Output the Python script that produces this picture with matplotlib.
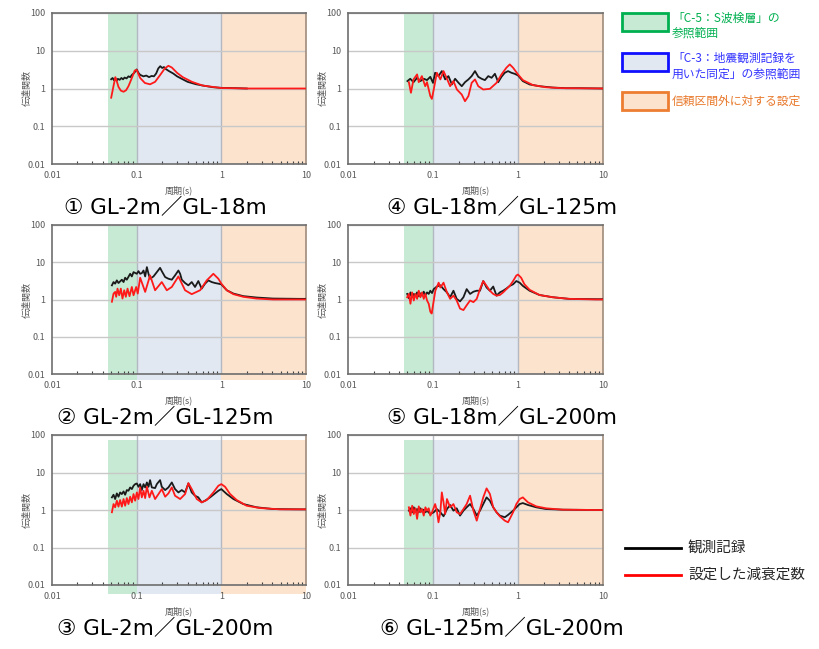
import matplotlib
matplotlib.use('Agg')
import matplotlib.pyplot as plt
from matplotlib.patches import Rectangle

plt.rcParams['font.family'] = ['Noto Sans CJK JP', 'DejaVu Sans']

# ---- data (period [s], transfer function) ----
titles = ['① GL-2m／GL-18m', '② GL-2m／GL-125m', '③ GL-2m／GL-200m',
          '④ GL-18m／GL-125m', '⑤ GL-18m／GL-200m', '⑥ GL-125m／GL-200m']

p1_obs = [0.050, 0.052, 0.054, 0.056, 0.058, 0.060, 0.063, 0.066, 0.069, 0.072, 0.076, 0.080, 0.084, 0.088,
          0.092, 0.096, 0.100, 0.105, 0.11, 0.12, 0.13, 0.14, 0.15, 0.16, 0.17, 0.18, 0.19, 0.20, 0.21, 0.22,
          0.24, 0.27, 0.30, 0.35, 0.40, 0.50, 0.60, 0.80, 1.0, 1.5, 2.0]
v1_obs = [1.76, 1.9, 1.65, 1.85, 1.6, 1.8, 1.7, 1.9, 1.75, 1.95, 1.85, 2.1, 2.0, 2.3,
          2.5, 2.8, 3.2, 2.6, 2.3, 2.1, 2.2, 2.0, 2.15, 2.1, 2.5, 3.4, 3.9, 3.5, 3.7, 3.3,
          2.9, 2.5, 2.1, 1.75, 1.5, 1.3, 1.2, 1.08, 1.04, 1.02, 1.0]
p1_fit = [0.050, 0.053, 0.056, 0.058, 0.061, 0.065, 0.070, 0.075, 0.080, 0.085, 0.090, 0.095, 0.100, 0.110,
          0.125, 0.144, 0.165, 0.19, 0.215, 0.237, 0.26, 0.30, 0.35, 0.45, 0.60, 0.75, 1.0, 2.0, 10.0]
v1_fit = [0.57, 1.1, 2.0, 1.6, 1.1, 0.88, 0.82, 0.9, 1.15, 1.6, 2.2, 3.0, 3.1, 1.9,
          1.4, 1.29, 1.5, 2.3, 3.4, 4.0, 3.6, 2.6, 2.0, 1.5, 1.2, 1.12, 1.03, 1.0, 1.0]

p2_obs = [0.051, 0.0533, 0.0557, 0.0583, 0.061, 0.0668, 0.070, 0.0731, 0.0765, 0.0838, 0.0877, 0.0918,
          0.1005, 0.105, 0.110, 0.115, 0.1205, 0.126, 0.132, 0.138, 0.144, 0.158, 0.173, 0.189, 0.198,
          0.217, 0.237, 0.260, 0.284, 0.311, 0.326, 0.341, 0.373, 0.408, 0.447, 0.489, 0.535, 0.586,
          0.642, 0.703, 0.769, 0.842, 0.922, 1.0, 1.16, 1.39, 1.82, 2.61, 4.1, 8.5, 10.0]
v2_obs = [2.4, 2.94, 2.66, 3.26, 2.77, 3.4, 2.94, 3.84, 3.4, 4.9, 4.16, 5.43,
          4.9, 5.77, 4.9, 5.1, 6.0, 4.16, 7.4, 4.9, 3.61, 4.16, 5.43, 7.07, 5.77,
          4.0, 3.61, 3.4, 4.43, 6.0, 4.9, 3.4, 2.77, 2.4, 2.94, 2.17, 3.13, 1.96,
          2.66, 3.26, 2.94, 2.77, 2.66, 2.55, 1.77, 1.44, 1.23, 1.13, 1.06, 1.04, 1.04]
p2_fit = [0.051, 0.0533, 0.0557, 0.0573, 0.0594, 0.0622, 0.065, 0.068, 0.0713, 0.0745, 0.078, 0.0823,
          0.0877, 0.0918, 0.0987, 0.103, 0.110, 0.126, 0.144, 0.165, 0.198, 0.227, 0.260, 0.311, 0.373,
          0.447, 0.561, 0.672, 0.805, 0.922, 1.0, 1.16, 1.39, 1.82, 2.61, 4.1, 10.0]
v2_fit = [0.87, 1.44, 1.6, 1.18, 1.96, 1.30, 1.96, 1.06, 1.77, 1.18, 1.96, 1.23,
          2.17, 1.30, 2.17, 1.44, 3.84, 1.6, 4.43, 1.77, 2.94, 1.77, 2.17, 4.16, 1.77,
          1.39, 1.77, 3.26, 4.9, 3.61, 2.66, 1.77, 1.39, 1.18, 1.06, 1.0, 1.0]

p3_obs = [0.051, 0.0533, 0.0557, 0.0583, 0.061, 0.0638, 0.0668, 0.070, 0.0731, 0.0765, 0.080, 0.0838,
          0.0877, 0.0918, 0.096, 0.1005, 0.105, 0.110, 0.115, 0.1205, 0.126, 0.132, 0.138, 0.144, 0.151,
          0.165, 0.173, 0.189, 0.198, 0.217, 0.237, 0.260, 0.284, 0.311, 0.341, 0.373, 0.408, 0.447,
          0.489, 0.535, 0.586, 0.642, 0.736, 0.842, 0.922, 1.0, 1.16, 1.39, 1.82, 2.61, 4.1, 8.5, 10.0]
v3_obs = [2.17, 2.55, 1.96, 2.77, 2.26, 2.94, 2.66, 3.13, 2.55, 3.4, 3.26, 4.0,
          3.61, 4.43, 4.9, 5.1, 4.16, 4.9, 3.4, 4.9, 4.0, 5.43, 4.16, 6.26, 4.0,
          3.84, 4.9, 6.26, 4.16, 3.4, 4.0, 5.43, 3.61, 2.94, 3.4, 2.94, 5.1, 2.94,
          2.4, 2.17, 1.6, 1.77, 2.17, 2.77, 3.26, 3.61, 2.66, 1.96, 1.44, 1.18, 1.06, 1.04, 1.04]
p3_fit = [0.051, 0.0533, 0.0557, 0.0583, 0.061, 0.0638, 0.0668, 0.070, 0.0731, 0.0765, 0.080, 0.0838,
          0.0877, 0.0918, 0.096, 0.1005, 0.105, 0.110, 0.115, 0.1205, 0.126, 0.132, 0.1416, 0.151, 0.165,
          0.181, 0.198, 0.217, 0.237, 0.260, 0.284, 0.326, 0.373, 0.408, 0.447, 0.513, 0.586, 0.672,
          0.805, 0.922, 1.0, 1.107, 1.27, 1.52, 1.99, 2.86, 4.92, 10.0]
v3_fit = [0.87, 1.44, 1.18, 1.77, 1.23, 1.84, 1.23, 1.96, 1.30, 2.08, 1.44, 2.26,
          1.6, 2.66, 1.77, 2.94, 1.96, 4.0, 2.17, 3.26, 2.08, 4.16, 2.17, 3.26, 1.96,
          2.66, 3.61, 2.26, 2.77, 4.0, 2.4, 1.96, 2.66, 5.21, 3.61, 1.96, 1.6, 1.84,
          2.94, 4.43, 4.9, 4.16, 2.66, 1.84, 1.30, 1.13, 1.04, 1.04]

p4_obs = [0.050, 0.054, 0.059, 0.065, 0.071, 0.078, 0.085, 0.093, 0.100, 0.106, 0.116, 0.127, 0.139, 0.152,
          0.167, 0.182, 0.200, 0.218, 0.238, 0.261, 0.285, 0.312, 0.341, 0.373, 0.408, 0.447, 0.489, 0.535,
          0.585, 0.639, 0.699, 0.764, 0.836, 0.914, 1.0, 1.14, 1.37, 1.79, 2.56, 3.67, 5.25, 10.0]
v4_obs = [1.57, 1.81, 1.47, 1.92, 1.57, 1.81, 1.67, 2.04, 1.41, 2.61, 2.13, 2.89, 1.74, 2.13,
          1.28, 1.81, 1.41, 1.15, 1.47, 1.74, 2.13, 2.89, 2.04, 1.81, 1.67, 2.13, 1.92, 2.45,
          1.47, 2.04, 2.61, 2.89, 2.61, 2.45, 2.22, 1.57, 1.28, 1.15, 1.06, 1.02, 1.02, 1.0]
p4_fit = [0.052, 0.055, 0.059, 0.065, 0.068, 0.074, 0.081, 0.085, 0.093, 0.097, 0.102, 0.111, 0.122,
          0.133, 0.146, 0.159, 0.174, 0.191, 0.218, 0.238, 0.261, 0.285, 0.312, 0.341, 0.39, 0.467,
          0.559, 0.639, 0.73, 0.80, 0.875, 1.0, 1.14, 1.5, 2.14, 3.3, 10.0]
v4_fit = [1.47, 0.77, 1.74, 2.36, 1.47, 2.13, 1.15, 1.47, 0.63, 0.53, 0.94, 2.61, 1.74,
          2.89, 1.81, 1.15, 1.57, 0.94, 0.69, 0.46, 0.63, 1.41, 1.74, 1.15, 0.94, 0.98,
          1.41, 2.36, 3.55, 4.35, 3.55, 2.36, 1.67, 1.23, 1.08, 1.02, 1.0]

p5_obs = [0.0497, 0.052, 0.0543, 0.0568, 0.0594, 0.0622, 0.065, 0.068, 0.0711, 0.0744, 0.0778, 0.0814,
          0.0851, 0.089, 0.093, 0.0974, 0.102, 0.111, 0.122, 0.133, 0.146, 0.159, 0.174, 0.19, 0.208,
          0.228, 0.249, 0.273, 0.299, 0.327, 0.357, 0.39, 0.427, 0.467, 0.511, 0.559, 0.611, 0.668,
          0.731, 0.80, 0.875, 0.956, 1.046, 1.14, 1.37, 1.79, 2.56, 4.0, 8.2, 10.0]
v5_obs = [1.41, 1.08, 1.55, 1.15, 1.41, 1.27, 1.55, 1.22, 1.46, 1.27, 1.62, 1.32,
          1.55, 1.41, 1.72, 1.49, 1.90, 2.23, 2.41, 1.90, 1.55, 1.15, 1.72, 1.04, 0.89,
          1.15, 1.90, 1.41, 1.62, 1.72, 1.72, 3.13, 2.10, 1.72, 2.23, 1.27, 1.55, 1.72,
          1.97, 2.32, 2.56, 3.13, 2.83, 2.32, 1.72, 1.32, 1.15, 1.04, 1.02, 1.02]
p5_fit = [0.0497, 0.052, 0.0543, 0.0568, 0.0594, 0.0622, 0.065, 0.068, 0.0711, 0.0744, 0.0778, 0.0814,
          0.0851, 0.089, 0.093, 0.0965, 0.100, 0.1065, 0.1165, 0.122, 0.133, 0.139, 0.146, 0.159, 0.174,
          0.19, 0.208, 0.228, 0.249, 0.273, 0.299, 0.327, 0.357, 0.39, 0.427, 0.467, 0.511, 0.559,
          0.611, 0.668, 0.731, 0.80, 0.875, 0.956, 1.0, 1.09, 1.19, 1.37, 1.79, 2.56, 4.0, 8.2, 10.0]
v5_fit = [1.15, 1.41, 0.77, 1.55, 0.94, 1.41, 1.04, 1.72, 1.15, 1.55, 1.04, 1.41,
          0.94, 0.77, 0.47, 0.42, 0.70, 1.72, 2.83, 2.10, 2.83, 2.10, 1.55, 1.04, 1.27,
          0.94, 0.57, 0.52, 0.70, 0.94, 0.85, 1.04, 1.90, 3.13, 2.32, 1.72, 1.41, 1.27,
          1.32, 1.55, 1.90, 2.32, 3.13, 4.4, 4.67, 3.83, 2.56, 1.82, 1.32, 1.15, 1.04, 1.0, 1.0]

p6_obs = [0.052, 0.0543, 0.0569, 0.0594, 0.0622, 0.065, 0.068, 0.0711, 0.0744, 0.0778, 0.0814, 0.0851,
          0.093, 0.102, 0.111, 0.122, 0.133, 0.146, 0.159, 0.174, 0.19, 0.208, 0.228, 0.249, 0.273,
          0.299, 0.327, 0.357, 0.39, 0.427, 0.467, 0.511, 0.559, 0.611, 0.699, 0.764, 0.875, 0.957,
          1.045, 1.14, 1.31, 1.64, 2.14, 3.35, 8.2, 10.0]
v6_obs = [0.96, 1.11, 0.87, 1.18, 0.90, 1.06, 0.87, 1.11, 0.90, 1.02, 0.87, 0.96,
          0.78, 0.87, 1.06, 0.87, 0.68, 1.06, 1.36, 0.96, 1.11, 0.71, 0.96, 1.18, 1.44,
          1.06, 0.71, 0.96, 1.44, 2.17, 1.77, 1.18, 0.87, 0.71, 0.64, 0.74, 0.96, 1.18,
          1.44, 1.53, 1.36, 1.18, 1.06, 1.02, 1.0, 1.0]
p6_fit = [0.052, 0.0543, 0.0569, 0.0594, 0.0622, 0.065, 0.068, 0.0711, 0.0744, 0.0778, 0.0814, 0.0851,
          0.089, 0.093, 0.0974, 0.106, 0.111, 0.116, 0.122, 0.127, 0.133, 0.139, 0.146, 0.159, 0.174,
          0.19, 0.208, 0.228, 0.249, 0.273, 0.299, 0.327, 0.357, 0.39, 0.427, 0.467, 0.511, 0.559,
          0.611, 0.699, 0.764, 0.875, 0.957, 1.045, 1.14, 1.31, 1.64, 2.14, 3.35, 8.2, 10.0]
v6_fit = [1.18, 0.71, 1.30, 0.78, 1.11, 0.58, 1.25, 0.87, 1.06, 0.71, 1.18, 0.96,
          1.11, 0.71, 0.87, 1.44, 0.96, 0.47, 0.87, 2.95, 1.60, 0.78, 1.96, 1.18, 1.44,
          0.87, 0.78, 1.06, 1.44, 2.41, 0.96, 0.52, 1.06, 2.17, 3.77, 2.67, 1.18, 0.87,
          0.68, 0.52, 0.47, 0.87, 1.44, 1.96, 2.17, 1.60, 1.25, 1.11, 1.02, 1.0, 1.0]

obs = [(p1_obs, v1_obs), (p2_obs, v2_obs), (p3_obs, v3_obs),
       (p4_obs, v4_obs), (p5_obs, v5_obs), (p6_obs, v6_obs)]
fit = [(p1_fit, v1_fit), (p2_fit, v2_fit), (p3_fit, v3_fit),
       (p4_fit, v4_fit), (p5_fit, v5_fit), (p6_fit, v6_fit)]

# reference ranges (period, s)
green_range = (0.046, 0.1)
blue_range = (0.1, 1.0)
orange_range = (1.0, 10.0)

x_ticks = [0.01, 0.1, 1, 10]
x_ticklabels = ['0.01', '0.1', '1', '10']
y_ticks = [0.01, 0.1, 1, 10, 100]
y_ticklabels = ['0.01', '0.1', '1', '10', '100']

legend_box_labels = ['「C-5：S波検層」の\n参照範囲', '「C-3：地震観測記録を\n用いた同定」の参照範囲',
                     '信頼区間外に対する設定']
legend_line_labels = ['観測記録', '設定した減衰定数']

# ---- style ----
W, H = 820, 649
GREEN_F, BLUE_F, ORANGE_F = '#c6ead3', '#e1e8f2', '#fbe3cd'
TXT = '#595959'

fig = plt.figure(figsize=(8.2, 6.49), dpi=100)

cols = [(52, 306), (348, 603)]
rows = [(13, 164), (225, 374), (435, 585)]
band_span = [(0, 1), (-0.04, 1), (-0.06, 0.97), (0, 1), (0, 1), (0, 0.97)]

for i in range(6):
    c, r = divmod(i, 3)
    x0, x1 = cols[c]
    y0, y1 = rows[r]
    ax = fig.add_axes([x0 / W, 1 - y1 / H, (x1 - x0) / W, (y1 - y0) / H])
    ax.set_xscale('log')
    ax.set_yscale('log')
    ax.set_xlim(0.01, 10)
    ax.set_ylim(0.01, 100)

    lo, hi = band_span[i]
    for (a, b), fc in [(green_range, GREEN_F), (blue_range, BLUE_F), (orange_range, ORANGE_F)]:
        sp = ax.axvspan(a, b, ymin=lo, ymax=hi, color=fc, lw=0, zorder=0)
        sp.set_clip_on(False)
    for xv in (0.1, 1.0):
        ax.axvline(xv, color='#b4b8c0', lw=1.0, zorder=1)

    ax.set_yticks(y_ticks)
    ax.set_yticklabels(y_ticklabels)
    ax.set_xticks(x_ticks)
    ax.set_xticklabels(x_ticklabels)
    ax.minorticks_off()
    ax.xaxis.set_minor_locator(matplotlib.ticker.LogLocator(base=10, subs=range(2, 10)))
    ax.xaxis.set_minor_formatter(matplotlib.ticker.NullFormatter())
    ax.tick_params(which='major', length=0, labelsize=6.5, labelcolor=TXT, pad=5)
    ax.tick_params(axis='x', which='minor', direction='in', length=2.5, width=0.8, color='#404040')
    ax.grid(axis='y', which='major', color='#c8c8c8', lw=1.0)

    for s in ax.spines.values():
        s.set_color('#6e6e6e')
        s.set_linewidth(1.2)
    ax.spines['right'].set_color('#a08c7c')

    po, vo = obs[i]
    pf, vf = fit[i]
    ax.plot(po, vo, color='#1a1a1a', lw=1.3, zorder=3)
    ax.plot(pf, vf, color='#ff1a1a', lw=1.3, zorder=4)

    cx = (x0 + x1) / 2
    fig.text((x0 - 25) / W, 1 - (y0 + y1) / 2 / H, '伝達関数', rotation=90, fontsize=6.5,
             color=TXT, ha='center', va='center')
    fig.text(cx / W, 1 - (y1 + 26) / H, '周期(s)', fontsize=6.5, color=TXT, ha='center', va='center')
    fig.text((165 if c == 0 else 502) / W, 1 - (y1 + 44) / H, titles[i], fontsize=15.5,
             family=['DejaVu Sans', 'Noto Sans CJK JP'], ha='center', va='center')

# ---- legends on the right ----
lg = fig.add_axes([0, 0, 1, 1])
lg.set_xlim(0, W)
lg.set_ylim(H, 0)
lg.axis('off')

box_y = [13, 53, 92]
edge_cols = ['#00b050', '#1010ff', '#ed7d31']
text_cols = ['#00b050', '#3333ff', '#e8782a']
for yb, fc, ec, tc, lab in zip(box_y, [GREEN_F, BLUE_F, ORANGE_F], edge_cols, text_cols,
                               legend_box_labels):
    lg.add_patch(Rectangle((622, yb), 46, 18, facecolor=fc, edgecolor=ec, lw=2))
    n_lines = lab.count('\n') + 1
    lg.text(672, yb + (13 if n_lines == 2 else 9), lab, fontsize=8.5, color=tc,
            ha='left', va='center', linespacing=1.25)

for yl, col, lab in zip([548, 575], ['#000000', '#ff0000'], legend_line_labels):
    lg.plot([625, 681], [yl, yl], color=col, lw=2)
    lg.text(688, yl, lab, fontsize=10.5, color='#262626', ha='left', va='center')

fig.savefig('out.png', dpi=100)
